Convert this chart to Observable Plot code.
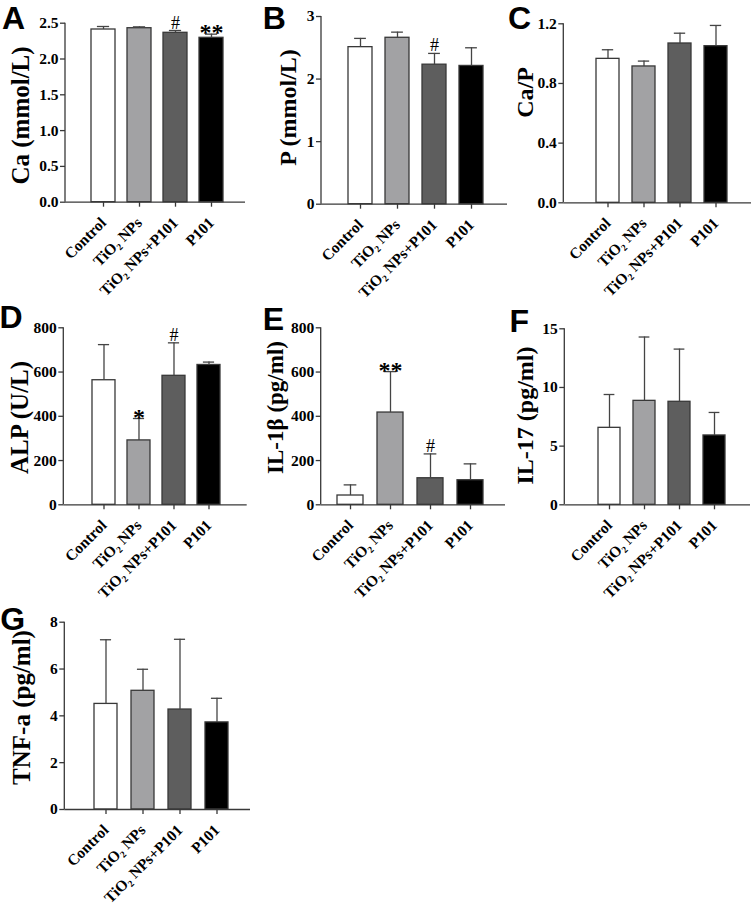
<!DOCTYPE html>
<html><head><meta charset="utf-8">
<script src="https://cdn.jsdelivr.net/npm/d3@7"></script>
<script src="https://cdn.jsdelivr.net/npm/@observablehq/plot@0.6"></script>
<style>
body{margin:0;background:#fff;}
#root{position:relative;width:753px;height:904px;overflow:hidden;background:#fff;}
.panel{position:absolute;}
.letter{position:absolute;font-family:"Liberation Sans",Arial,sans-serif;font-weight:bold;font-size:32px;line-height:32px;color:#000;}
</style></head><body><div id="root"></div>
<script>
// ---------- data ----------
const groups = ["Control", "TiO₂ NPs", "TiO₂ NPs+P101", "P101"];
const groupColors = ["#ffffff", "#a2a2a4", "#5e5e5e", "#000000"];

const caMean = [2.412, 2.430, 2.366, 2.296];
const caSD   = [0.042, 0.019, 0.032, 0.051];
const caSig  = ["", "", "#", "**"];
const caTicks = [0, 0.5, 1.0, 1.5, 2.0, 2.5];

const pMean = [2.51, 2.66, 2.23, 2.21];
const pSD   = [0.14, 0.09, 0.18, 0.29];
const pSig  = ["", "", "#", ""];
const pTicks = [0, 1, 2, 3];

const ratioMean = [0.965, 0.914, 1.068, 1.050];
const ratioSD   = [0.061, 0.036, 0.069, 0.139];
const ratioSig  = ["", "", "", ""];
const ratioTicks = [0, 0.4, 0.8, 1.2];

const alpMean = [563, 291, 583, 632];
const alpSD   = [161, 99, 149, 13];
const alpSig  = ["", "*", "#", ""];
const alpTicks = [0, 200, 400, 600, 800];

const il1bMean = [42, 417, 120, 111];
const il1bSD   = [48, 185, 110, 74];
const il1bSig  = ["", "**", "#", ""];
const il1bTicks = [0, 200, 400, 600, 800];

const il17Mean = [6.56, 8.86, 8.78, 5.91];
const il17SD   = [2.84, 5.44, 4.49, 1.96];
const il17Sig  = ["", "", "", ""];
const il17Ticks = [0, 5, 10, 15];

const tnfMean = [4.51, 5.07, 4.27, 3.72];
const tnfSD   = [2.74, 0.92, 3.00, 1.03];
const tnfSig  = ["", "", "", ""];
const tnfTicks = [0, 2, 4, 6, 8];

const panelLetters = ["A", "B", "C", "D", "E", "F", "G"];
const panelTitles = ["Ca (mmol/L)", "P (mmol/L)", "Ca/P", "ALP (U/L)", "IL-1β (pg/ml)", "IL-17 (pg/ml)", "TNF-a (pg/ml)"];

// ---------- layout (page coordinates) ----------
const layouts = [
  {left:0,   top:0,   h:300, axisX:65,    right:245,   yTop:22.7,  yBottom:201.7, step:36,   band:23.6, first:25.7, titleX:20,  titleY:115, titleSize:25, lx:2,    ly:1.5},
  {left:250, top:0,   h:300, axisX:321,   right:507,   yTop:16,    yBottom:203.7, step:37.9, band:24.4, first:25.7, titleX:288, titleY:107, titleSize:24, lx:262.7,ly:1.5},
  {left:500, top:0,   h:300, axisX:563.3, right:751,   yTop:23.3,  yBottom:202.3, step:36,   band:23.3, first:32.4, titleX:525, titleY:92,  titleSize:24, lx:508,  ly:1.5},
  {left:0,   top:300, h:300, axisX:63.3,  right:246.7, yTop:327.3, yBottom:504.3, step:35.8, band:23.6, first:27.4, titleX:20,  titleY:417, titleSize:25, lx:-0.6, ly:301.2},
  {left:250, top:300, h:300, axisX:320.7, right:505,   yTop:327.3, yBottom:504.3, step:40.8, band:26.6, first:15,   titleX:275, titleY:407, titleSize:23, lx:262.7,ly:303},
  {left:500, top:300, h:300, axisX:564.3, right:750,   yTop:328.3, yBottom:504.3, step:35.6, band:22.5, first:32,   titleX:525, titleY:415, titleSize:24, lx:509.4,ly:304.6},
  {left:0,   top:600, h:304, axisX:64.3,  right:250,   yTop:621.7, yBottom:809,   step:37.6, band:23.7, first:28,   titleX:21,  titleY:707, titleSize:25, lx:0.3,  ly:603}
];

const serif = '"Liberation Serif","Times New Roman",serif';
const axisColor = "#383838";
const root = document.getElementById("root");

function makePanel(idx, means, sds, sigs, ticks, fmt) {
  const L = layouts[idx];
  const height = L.h;
  const width = L.right - L.left + 3;
  const mL = L.axisX - L.left, mR = 3;
  const mT = L.yTop - L.top, mB = L.top + height - L.yBottom;
  const W = L.right - L.axisX;
  const n = groups.length;
  const pIn = 1 - L.band / L.step;
  const rem = W - L.step * (n - pIn);
  const pOut = rem / (2 * L.step);
  const align = Math.max(0, Math.min(1, L.first / rem));
  const data = groups.map((g, i) => ({group: g, mean: means[i], top: means[i] + sds[i], sig: sigs[i]}));
  const frameMid = (L.yTop + L.yBottom) / 2;

  const plot = Plot.plot({
    width, height,
    marginLeft: mL, marginRight: mR, marginTop: mT, marginBottom: mB,
    style: {fontFamily: serif, fontWeight: "bold", background: "transparent", overflow: "visible", color: "#000"},
    x: {domain: groups, paddingInner: pIn, paddingOuter: pOut, align},
    y: {domain: [ticks[0], ticks[ticks.length - 1]]},
    color: {type: "ordinal", domain: groups, range: groupColors},
    marks: [
      Plot.barY(data, {x: "group", y: "mean", fill: "group", stroke: axisColor, strokeWidth: 1.3}),
      Plot.ruleX(data, {x: "group", y1: "mean", y2: "top", stroke: "#444", strokeWidth: 1.3}),
      Plot.tickY(data, {x: "group", y: "top", stroke: "#444", strokeWidth: 1.3, insetLeft: L.band / 4, insetRight: L.band / 4}),
      Plot.ruleY([0], {stroke: axisColor, strokeWidth: 1.3}),
      Plot.axisY({ticks, tickFormat: fmt, tickSize: 5, tickPadding: 2, fontSize: 15.5, label: null, stroke: axisColor, strokeWidth: 1.3, fill: "#000"}),
      Plot.axisX({tickSize: 5, tickPadding: 13, tickRotate: -45, fontSize: 15.5, label: null, stroke: axisColor, strokeWidth: 1.3, fill: "#000"}),
      Plot.text(data.filter(d => d.sig === "#"), {x: "group", y: "top", text: "sig", lineAnchor: "bottom", dy: -2, fontSize: 18, fontWeight: "normal", fill: "#000"}),
      Plot.text(data.filter(d => d.sig.startsWith("*")), {x: "group", y: "top", text: "sig", lineAnchor: "bottom", dy: 6, fontSize: 24, fontWeight: "bold", fill: "#000"}),
      Plot.text([panelTitles[idx]], {text: d => d, frameAnchor: "left", textAnchor: "middle", lineAnchor: "middle", rotate: -90, dx: L.titleX - L.axisX, dy: L.titleY - frameMid, fontSize: L.titleSize, fontWeight: "bold", fill: "#000"})
    ]
  });

  // y-axis domain line, drawn from the plot's own scales
  const xs = plot.scale("x"), ys = plot.scale("y");
  d3.select(plot).append("line")
    .attr("x1", xs.range[0]).attr("x2", xs.range[0])
    .attr("y1", ys.range[0]).attr("y2", ys.range[1])
    .attr("stroke", axisColor).attr("stroke-width", 1.3);

  plot.classList.add("panel");
  plot.style.left = L.left + "px";
  plot.style.top = L.top + "px";
  root.appendChild(plot);

  const letter = document.createElement("div");
  letter.className = "letter";
  letter.textContent = panelLetters[idx];
  letter.style.left = L.lx + "px";
  letter.style.top = L.ly + "px";
  root.appendChild(letter);
}

const f1 = d3.format(".1f");
const f0 = d3.format("d");
makePanel(0, caMean, caSD, caSig, caTicks, f1);
makePanel(1, pMean, pSD, pSig, pTicks, f0);
makePanel(2, ratioMean, ratioSD, ratioSig, ratioTicks, f1);
makePanel(3, alpMean, alpSD, alpSig, alpTicks, f0);
makePanel(4, il1bMean, il1bSD, il1bSig, il1bTicks, f0);
makePanel(5, il17Mean, il17SD, il17Sig, il17Ticks, f0);
makePanel(6, tnfMean, tnfSD, tnfSig, tnfTicks, f0);
</script></body></html>
